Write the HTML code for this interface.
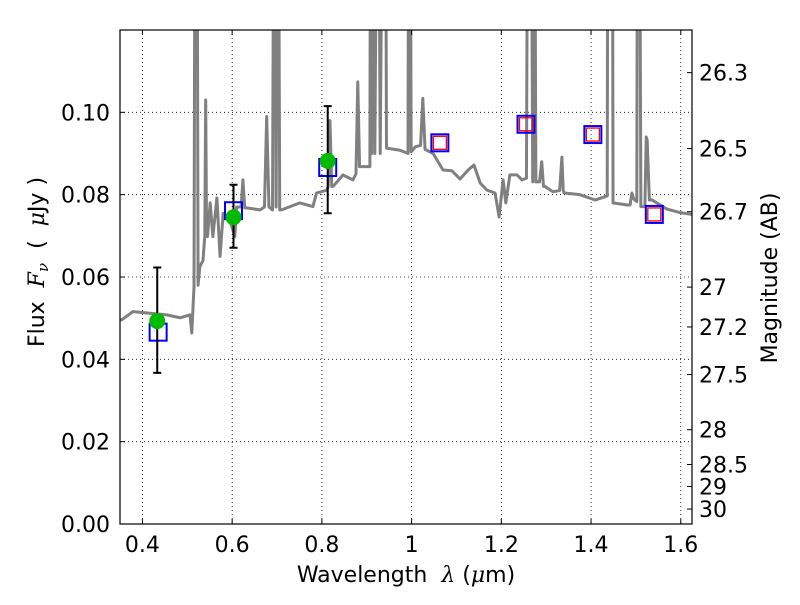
<!DOCTYPE html>
<html><head><meta charset="utf-8"><style>
body{margin:0;background:#fff}
svg text{font-family:"DejaVu Sans","Liberation Sans",sans-serif;fill:#000;white-space:pre}
</style></head><body>
<svg id="chart" width="800" height="600" viewBox="0 0 800 600" xmlns="http://www.w3.org/2000/svg">
<rect width="800" height="600" fill="#fff"/>
<defs><clipPath id="clip"><rect x="120" y="30" width="572" height="494"/></clipPath></defs>
<g id="grid"></g>
<g id="plot" clip-path="url(#clip)"></g>
<rect x="120" y="30" width="572" height="494" fill="none" stroke="#000" stroke-width="1.2"/>
<g id="axes"></g>
<text x="406" y="582" font-size="22" text-anchor="middle">Wavelength  <tspan font-style="italic" font-family="DejaVu Serif,serif">λ</tspan> (<tspan font-style="italic" font-family="DejaVu Serif,serif">μ</tspan>m)</text>
<text transform="translate(44,262) rotate(-90)" font-size="22" text-anchor="middle">Flux  <tspan font-style="italic" font-family="DejaVu Serif,serif">F</tspan><tspan font-style="italic" font-size="15" dy="4" font-family="DejaVu Serif,serif">ν</tspan><tspan dy="-4">  (  </tspan><tspan font-style="italic" font-family="DejaVu Serif,serif">μ</tspan>Jy )</text>
<text transform="translate(777,278) rotate(-90)" font-size="22" text-anchor="middle">Magnitude (AB)</text>
</svg>
<script>
const specLam=[0.35,0.354,0.379,0.417,0.454,0.484,0.506,0.510,0.515,0.518,0.521,0.524,0.528,0.535,0.539,0.541,0.543,0.545,0.551,0.557,0.566,0.573,0.580,0.595,0.606,0.610,0.620,0.624,0.628,0.632,0.662,0.672,0.677,0.682,0.690,0.694,0.698,0.702,0.706,0.710,0.751,0.780,0.788,0.811,0.814,0.818,0.822,0.825,0.847,0.869,0.876,0.880,0.884,0.889,0.907,0.909,0.911,0.914,0.918,0.925,0.930,0.938,0.941,0.944,0.974,0.992,0.994,0.996,0.999,1.008,1.020,1.025,1.030,1.048,1.070,1.090,1.108,1.126,1.139,1.153,1.168,1.186,1.195,1.204,1.210,1.219,1.235,1.246,1.256,1.260,1.265,1.270,1.273,1.277,1.285,1.290,1.294,1.297,1.315,1.330,1.335,1.338,1.340,1.375,1.409,1.436,1.438,1.440,1.444,1.447,1.449,1.481,1.487,1.491,1.495,1.502,1.504,1.507,1.511,1.520,1.523,1.525,1.530,1.536,1.569,1.600,1.625];
const specFlux=[0.0496,0.0496,0.0516,0.0512,0.0508,0.0501,0.0508,0.0464,0.0577,0.2,0.2,0.058,0.0625,0.064,0.07,0.103,0.07,0.0698,0.078,0.0698,0.0792,0.065,0.0755,0.0738,0.0698,0.077,0.077,0.0836,0.0768,0.0768,0.0763,0.077,0.099,0.077,0.0763,0.2,0.077,0.2,0.0763,0.0763,0.078,0.0771,0.0804,0.0811,0.082,0.098,0.082,0.082,0.0848,0.0836,0.085,0.1074,0.0868,0.0868,0.0868,0.2,0.09,0.2,0.09,0.2,0.09,0.2,0.2,0.0913,0.0908,0.090,0.2,0.2,0.0904,0.0916,0.092,0.1034,0.091,0.090,0.086,0.0858,0.0838,0.086,0.0872,0.0828,0.0811,0.0804,0.0746,0.0836,0.078,0.0848,0.0848,0.0836,0.084,0.2,0.2,0.0831,0.2,0.0831,0.0831,0.088,0.082,0.082,0.0807,0.081,0.0891,0.081,0.0804,0.080,0.0787,0.0797,0.2,0.2,0.2,0.2,0.078,0.0775,0.0775,0.0804,0.079,0.0783,0.2,0.2,0.0771,0.0771,0.094,0.0933,0.0787,0.0787,0.0765,0.0756,0.0752];
const obsLam=[0.433,0.603,0.813];
const obsFlux=[0.0493,0.0745,0.0882];
const obsErrLo=[0.0367,0.0671,0.0755];
const obsErrHi=[0.0623,0.0824,0.1015];
const modelLam=[0.435,0.603,0.813,1.063,1.255,1.404,1.541];
const modelFlux=[0.0466,0.0761,0.0866,0.0926,0.0971,0.0946,0.0752];
const redLam=[1.063,1.255,1.404,1.541];
const redFlux=[0.0926,0.0971,0.0946,0.0752];
const xTicks=[0.4,0.6,0.8,1.0,1.2,1.4,1.6];
const xTickLabels=["0.4","0.6","0.8","1","1.2","1.4","1.6"];
const yTicks=[0,0.02,0.04,0.06,0.08,0.10];
const yTickLabels=["0.00","0.02","0.04","0.06","0.08","0.10"];
const magTicks=[26.3,26.5,26.7,27,27.2,27.5,28,28.5,29,30];
const magTickLabels=["26.3","26.5","26.7","27","27.2","27.5","28","28.5","29","30"];

const X0=120,X1=692,Y0=524,Y1=30,XMIN=0.35,XMAX=1.625,YMIN=0,YMAX=0.12;
const sx=v=>X0+(v-XMIN)/(XMAX-XMIN)*(X1-X0);
const sy=v=>Y0-(v-YMIN)/(YMAX-YMIN)*(Y0-Y1);
const magToFlux=m=>Math.pow(10,(23.9-m)/2.5);
const NS="http://www.w3.org/2000/svg";
function mk(tag,attrs,parent){const e=document.createElementNS(NS,tag);for(const k in attrs)e.setAttribute(k,attrs[k]);parent.appendChild(e);return e;}
const grid=document.getElementById('grid'),plot=document.getElementById('plot'),axes=document.getElementById('axes');
xTicks.forEach((t,i)=>{
  const g=mk('line',{x1:sx(t),x2:sx(t),y1:Y1,y2:Y0,stroke:'#000','stroke-width':0.8,'stroke-dasharray':'1,3'},grid);
  
  
  mk('line',{x1:sx(t),x2:sx(t),y1:Y0,y2:Y0-5,stroke:'#000'},axes);
  mk('line',{x1:sx(t),x2:sx(t),y1:Y1,y2:Y1+5,stroke:'#000'},axes);
  const tx=mk('text',{x:sx(t),y:Y0+28,'font-size':22,'text-anchor':'middle'},axes);
  tx.textContent=xTickLabels[i];
  
  
});
yTicks.forEach((t,i)=>{
  if(t>0){const g=mk('line',{x1:X0,x2:X1,y1:sy(t),y2:sy(t),stroke:'#000','stroke-width':0.8,'stroke-dasharray':'1,3'},grid);
  
  }
  mk('line',{x1:X0,x2:X0+5,y1:sy(t),y2:sy(t),stroke:'#000'},axes);
  const tx=mk('text',{x:X0-10,y:sy(t)+8,'font-size':22,'text-anchor':'end'},axes);
  tx.textContent=yTickLabels[i];
  
  
});
magTicks.forEach((m,i)=>{
  const y=sy(magToFlux(m));
  mk('line',{x1:X1,x2:X1-5,y1:y,y2:y,stroke:'#000'},axes);
  const tx=mk('text',{x:X1+7,y:y+8,'font-size':22,'text-anchor':'start'},axes);
  tx.textContent=magTickLabels[i];
  
  
});
const pl=mk('polyline',{points:specLam.map((l,i)=>sx(l)+','+sy(specFlux[i])).join(' '),fill:'none',stroke:'#808080','stroke-width':3,'stroke-linejoin':'round'},plot);


modelLam.forEach((l,i)=>{
  const r=mk('rect',{x:sx(l)-8.5,y:sy(modelFlux[i])-8.5,width:17,height:17,fill:'none',stroke:'#0000ff','stroke-width':2},plot);
  
  
});
redLam.forEach((l,i)=>{
  const r=mk('rect',{x:sx(l)-6.5,y:sy(redFlux[i])-6.5,width:13,height:13,fill:'none',stroke:'#ff0000','stroke-width':1.3},plot);
  
  
});
obsLam.forEach((l,i)=>{
  const x=sx(l);
  const e=mk('path',{d:`M${x},${sy(obsErrLo[i])}V${sy(obsErrHi[i])}M${x-4},${sy(obsErrLo[i])}h8M${x-4},${sy(obsErrHi[i])}h8`,stroke:'#000','stroke-width':2,fill:'none'},plot);
  
  
  const c=mk('circle',{cx:x,cy:sy(obsFlux[i]),r:8,fill:'#00bb00'},plot);
  
  
});
</script>
</body></html>
